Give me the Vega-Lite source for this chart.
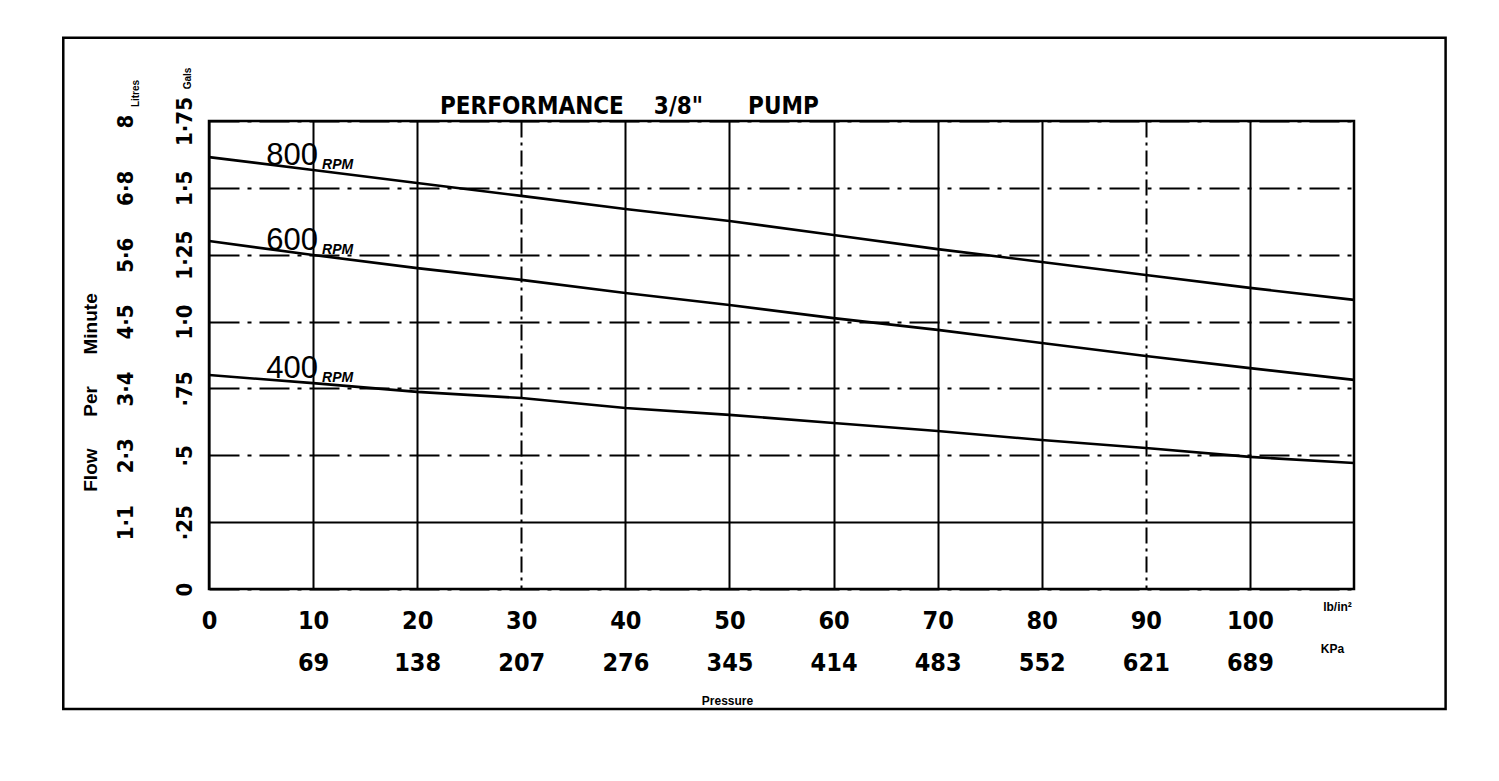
{
  "$schema": "https://vega.github.io/schema/vega-lite/v6.json",
  "width": 1145,
  "height": 468,
  "autosize": {"type": "none"},
  "padding": {"left": 209, "top": 121, "right": 145, "bottom": 192},
  "background": "white",
  "title": {
    "text": "PERFORMANCE\u00a0\u00a0\u00a0\u00a03/8\"\u00a0\u00a0\u00a0\u00a0\u00a0\u00a0PUMP",
    "anchor": "start",
    "frame": "group",
    "dx": 231,
    "offset": 0,
    "dy": 101,
    "baseline": "alphabetic",
    "font": "DejaVu Sans Condensed, sans-serif",
    "fontSize": 24,
    "fontWeight": "bold",
    "color": "black"
  },
  "datasets": {
    "curves": [
      {"psi": 0, "gal": 1.615, "rpm": 800},
      {"psi": 10, "gal": 1.567, "rpm": 800},
      {"psi": 20, "gal": 1.518, "rpm": 800},
      {"psi": 30, "gal": 1.47, "rpm": 800},
      {"psi": 40, "gal": 1.421, "rpm": 800},
      {"psi": 50, "gal": 1.376, "rpm": 800},
      {"psi": 60, "gal": 1.324, "rpm": 800},
      {"psi": 70, "gal": 1.271, "rpm": 800},
      {"psi": 80, "gal": 1.223, "rpm": 800},
      {"psi": 90, "gal": 1.174, "rpm": 800},
      {"psi": 100, "gal": 1.126, "rpm": 800},
      {"psi": 110, "gal": 1.081, "rpm": 800},
      {"psi": 0, "gal": 1.301, "rpm": 600},
      {"psi": 10, "gal": 1.249, "rpm": 600},
      {"psi": 20, "gal": 1.2, "rpm": 600},
      {"psi": 30, "gal": 1.156, "rpm": 600},
      {"psi": 40, "gal": 1.107, "rpm": 600},
      {"psi": 50, "gal": 1.062, "rpm": 600},
      {"psi": 60, "gal": 1.013, "rpm": 600},
      {"psi": 70, "gal": 0.969, "rpm": 600},
      {"psi": 80, "gal": 0.92, "rpm": 600},
      {"psi": 90, "gal": 0.871, "rpm": 600},
      {"psi": 100, "gal": 0.826, "rpm": 600},
      {"psi": 110, "gal": 0.782, "rpm": 600},
      {"psi": 0, "gal": 0.8, "rpm": 400},
      {"psi": 10, "gal": 0.77, "rpm": 400},
      {"psi": 20, "gal": 0.737, "rpm": 400},
      {"psi": 30, "gal": 0.714, "rpm": 400},
      {"psi": 40, "gal": 0.677, "rpm": 400},
      {"psi": 50, "gal": 0.651, "rpm": 400},
      {"psi": 60, "gal": 0.621, "rpm": 400},
      {"psi": 70, "gal": 0.591, "rpm": 400},
      {"psi": 80, "gal": 0.557, "rpm": 400},
      {"psi": 90, "gal": 0.527, "rpm": 400},
      {"psi": 100, "gal": 0.494, "rpm": 400},
      {"psi": 110, "gal": 0.471, "rpm": 400}
    ]
  },
  "data": {"name": "curves"},
  "layer": [
    {
      "mark": {"type": "line", "color": "black", "strokeWidth": 2.6},
      "encoding": {
        "x": {
          "field": "psi", "type": "quantitative",
          "scale": {"domain": [0, 110], "nice": false, "zero": false},
          "axis": {
            "orient": "bottom",
            "values": [0, 10, 20, 30, 40, 50, 60, 70, 80, 90, 100],
            "domain": false, "ticks": false,
            "grid": true, "gridColor": "black", "gridWidth": 2, "gridOpacity": 1,
            "gridDash": {"condition": {"test": "datum.value === 30 || datum.value === 90", "value": [16, 5, 3, 5]}, "value": []},
            "labelFont": "DejaVu Sans Condensed, sans-serif",
            "labelFontSize": 25, "labelFontWeight": "bold", "labelColor": "black",
            "labelBaseline": "middle", "labelPadding": 31, "labelDx": -8,
            "labelExpr": "datum.value === 0 ? '0' : datum.label",
            "labelFlush": false, "labelOverlap": false,
            "title": "lb/in²", "titleX": 1128, "titleY": 17,
            "titleAlign": "center", "titleBaseline": "middle",
            "titleFont": "Liberation Sans, sans-serif", "titleFontSize": 12, "titleFontWeight": "bold", "titleColor": "black"
          }
        },
        "y": {
          "field": "gal", "type": "quantitative",
          "scale": {"domain": [0, 1.75], "nice": false, "zero": false},
          "axis": {
            "orient": "left",
            "values": [0, 0.25, 0.5, 0.75, 1, 1.25, 1.5, 1.75],
            "domain": false, "ticks": false,
            "grid": true, "gridColor": "black", "gridWidth": 2, "gridOpacity": 1,
            "gridDash": {"condition": {"test": "datum.value === 0.25", "value": []}, "value": [30, 8, 4, 8]},
            "labelExpr": "['0','·25','·5','·75','1·0','1·25','1·5','1·75'][round(datum.value * 4)]",
            "labelAngle": -90, "labelAlign": "center", "labelBaseline": "middle",
            "labelPadding": 25,
            "labelFont": "DejaVu Sans Condensed, sans-serif",
            "labelFontSize": 22, "labelFontWeight": "bold", "labelColor": "black",
            "labelFlush": false, "labelOverlap": false,
            "title": "Gals", "titleAngle": -90, "titleX": -22, "titleY": -43,
            "titleAlign": "center", "titleBaseline": "middle",
            "titleFont": "Liberation Sans, sans-serif", "titleFontSize": 10, "titleFontWeight": "bold", "titleColor": "black"
          }
        },
        "detail": {"field": "rpm", "type": "nominal"}
      }
    },
    {
      "transform": [{"filter": "datum.psi === 10"}],
      "mark": {
        "type": "text", "align": "right", "baseline": "alphabetic",
        "dx": 5, "dy": -5,
        "font": "Liberation Sans, sans-serif", "fontSize": 31, "color": "black"
      },
      "encoding": {
        "x": {
          "field": "psi", "type": "quantitative",
          "scale": {"domain": [0, 110], "nice": false, "zero": false},
          "axis": {
            "orient": "bottom", "offset": 42,
            "values": [10, 20, 30, 40, 50, 60, 70, 80, 90, 100],
            "domain": false, "ticks": false, "grid": false,
            "labelExpr": "['','69','138','207','276','345','414','483','552','621','689'][round(datum.value / 10)]",
            "labelFont": "DejaVu Sans Condensed, sans-serif",
            "labelFontSize": 25, "labelFontWeight": "bold", "labelColor": "black",
            "labelBaseline": "middle", "labelPadding": 31, "labelDx": -8,
            "labelFlush": false, "labelOverlap": false,
            "title": "KPa", "titleX": 1123, "titleY": 17,
            "titleAlign": "center", "titleBaseline": "middle",
            "titleFont": "Liberation Sans, sans-serif", "titleFontSize": 12, "titleFontWeight": "bold", "titleColor": "black"
          }
        },
        "y": {
          "field": "gal", "type": "quantitative",
          "scale": {"domain": [0, 1.75], "nice": false, "zero": false},
          "axis": {
            "orient": "left", "offset": 60,
            "values": [0, 0.25, 0.5, 0.75, 1, 1.25, 1.5, 1.75],
            "domain": false, "ticks": false, "grid": false,
            "labelExpr": "['','1·1','2·3','3·4','4·5','5·6','6·8','8'][round(datum.value * 4)]",
            "labelAngle": -90, "labelAlign": "center", "labelBaseline": "middle",
            "labelPadding": 24,
            "labelFont": "DejaVu Sans Condensed, sans-serif",
            "labelFontSize": 22, "labelFontWeight": "bold", "labelColor": "black",
            "labelFlush": false, "labelOverlap": false,
            "title": "Litres", "titleAngle": -90, "titleX": -14, "titleY": -28,
            "titleAlign": "center", "titleBaseline": "middle",
            "titleFont": "Liberation Sans, sans-serif", "titleFontSize": 10, "titleFontWeight": "bold", "titleColor": "black"
          }
        },
        "text": {"field": "rpm", "type": "quantitative", "format": "d"}
      }
    },
    {
      "transform": [{"filter": "datum.psi === 10"}],
      "mark": {
        "type": "text", "align": "left", "baseline": "alphabetic",
        "dx": 9, "dy": -1,
        "font": "Liberation Sans, sans-serif", "fontSize": 14, "fontStyle": "italic", "fontWeight": "bold", "color": "black"
      },
      "encoding": {
        "x": {
          "field": "psi", "type": "quantitative",
          "scale": {"domain": [0, 110], "nice": false, "zero": false},
          "axis": {
            "orient": "bottom", "offset": 0,
            "values": [], "labels": false, "domain": false, "ticks": false, "grid": false,
            "title": "Pressure", "titleX": 518, "titleY": 111,
            "titleAlign": "center", "titleBaseline": "middle",
            "titleFont": "Liberation Sans, sans-serif", "titleFontSize": 12, "titleFontWeight": "bold", "titleColor": "black"
          }
        },
        "y": {
          "field": "gal", "type": "quantitative",
          "scale": {"domain": [0, 1.75], "nice": false, "zero": false},
          "axis": {
            "orient": "left", "offset": 0,
            "values": [], "labels": false, "domain": false, "ticks": false, "grid": false,
            "title": "Flow\u00a0\u00a0\u00a0\u00a0\u00a0\u00a0Per\u00a0\u00a0\u00a0\u00a0\u00a0\u00a0Minute", "titleAngle": -90, "titleX": -119, "titleY": 271,
            "titleAlign": "center", "titleBaseline": "middle",
            "titleFont": "Liberation Sans, sans-serif", "titleFontSize": 19, "titleFontWeight": "bold", "titleColor": "black"
          }
        },
        "text": {"value": "RPM"}
      }
    },
    {
      "data": {"values": [{}]},
      "mark": {"type": "rect", "fill": null, "filled": false, "stroke": "black", "strokeWidth": 2.5},
      "encoding": {
        "x": {"datum": -14, "type": "quantitative", "scale": {"domain": [0, 110], "nice": false, "zero": false}, "axis": null},
        "x2": {"datum": 118.8},
        "y": {"datum": 2.061, "type": "quantitative", "scale": {"domain": [0, 1.75], "nice": false, "zero": false}, "axis": null},
        "y2": {"datum": -0.449}
      }
    }
  ],
  "resolve": {"axis": {"x": "independent", "y": "independent"}},
  "config": {
    "view": {"stroke": "black", "strokeWidth": 2.5},
    "axis": {"labelColor": "black", "titleColor": "black"}
  }
}
